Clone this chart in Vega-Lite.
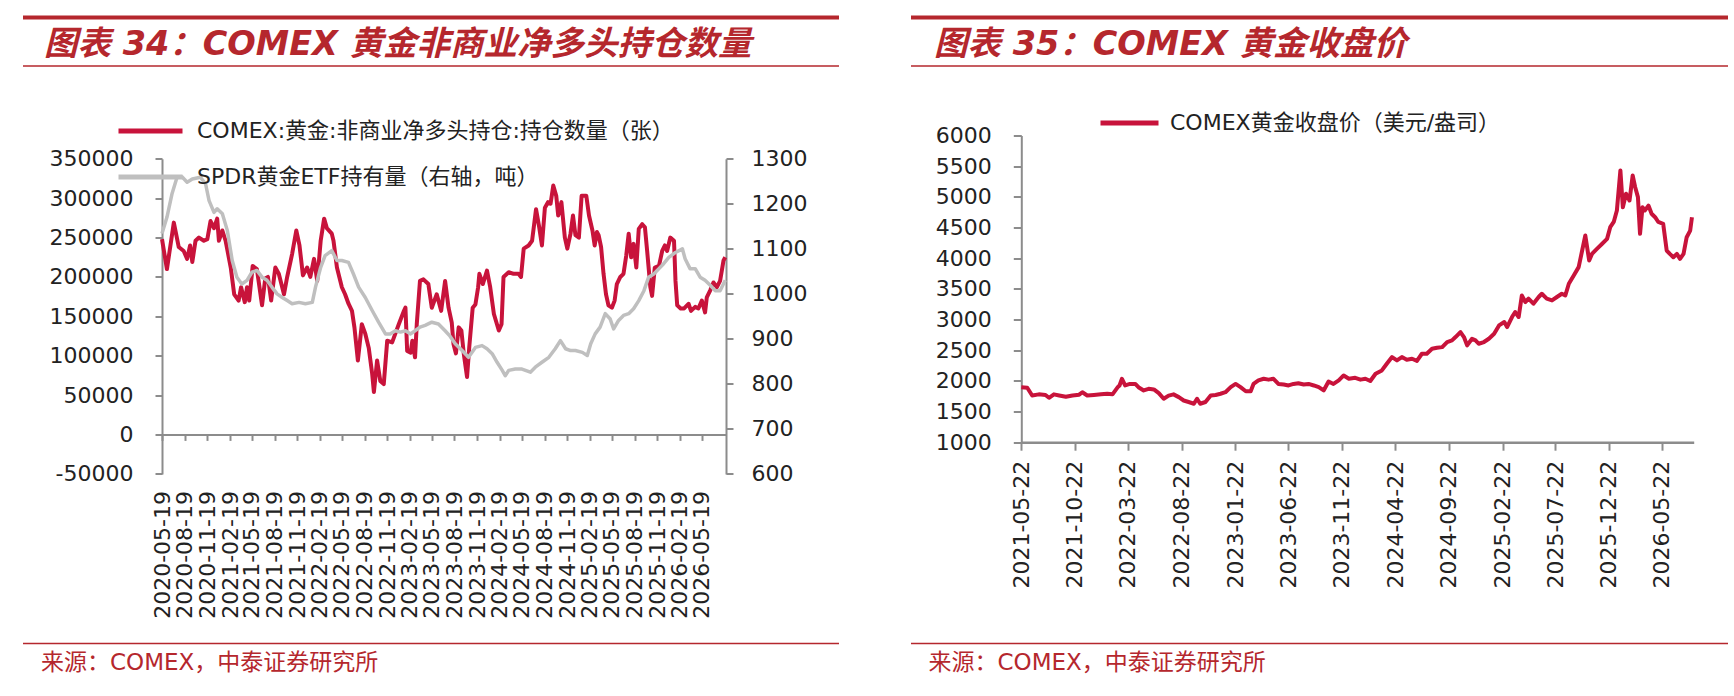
{
  "$schema": "https://vega.github.io/schema/vega-lite/v6.json",
  "background": "white",
  "padding": {"left": 21, "top": 15.5, "right": 8, "bottom": 5},
  "bounds": "flush",
  "columns": 2,
  "spacing": {"row": 69, "column": 72},
  "config": {
    "view": {"stroke": null},
    "font": "DejaVu Sans, Noto Sans CJK SC",
    "axis": {
      "labelFont": "DejaVu Sans, Noto Sans CJK SC",
      "labelFontSize": 22,
      "labelColor": "#222222",
      "domainColor": "#8c8c8c",
      "domainWidth": 2,
      "tickColor": "#8c8c8c",
      "tickWidth": 2,
      "grid": false,
      "labelOverlap": false
    },
    "legend": {
      "labelFont": "DejaVu Sans, Noto Sans CJK SC",
      "labelFontSize": 22,
      "labelColor": "#222222",
      "labelLimit": 800,
      "padding": 0
    }
  },
  "resolve": {"scale": {"color": "independent"}, "legend": {"color": "independent"}},
  "datasets": {
    "comex_net": [
      {"date": "2020-05-19", "net": 248000}, {"date": "2020-06-08", "net": 210000}, {"date": "2020-07-06", "net": 269000},
      {"date": "2020-07-15", "net": 255000}, {"date": "2020-07-26", "net": 238000}, {"date": "2020-08-15", "net": 233000},
      {"date": "2020-08-29", "net": 223000}, {"date": "2020-09-10", "net": 240000}, {"date": "2020-09-19", "net": 219000},
      {"date": "2020-10-02", "net": 246000}, {"date": "2020-10-16", "net": 250000}, {"date": "2020-11-05", "net": 246000},
      {"date": "2020-11-19", "net": 248000}, {"date": "2020-12-02", "net": 271000}, {"date": "2020-12-16", "net": 262000},
      {"date": "2020-12-29", "net": 274000}, {"date": "2021-01-05", "net": 246000}, {"date": "2021-01-19", "net": 259000},
      {"date": "2021-02-01", "net": 246000}, {"date": "2021-02-22", "net": 212000}, {"date": "2021-03-08", "net": 178000},
      {"date": "2021-03-26", "net": 170000}, {"date": "2021-04-05", "net": 187000}, {"date": "2021-04-20", "net": 168000},
      {"date": "2021-04-29", "net": 187000}, {"date": "2021-05-08", "net": 170000}, {"date": "2021-05-22", "net": 214000},
      {"date": "2021-06-08", "net": 210000}, {"date": "2021-06-15", "net": 195000}, {"date": "2021-06-29", "net": 164000},
      {"date": "2021-07-12", "net": 198000}, {"date": "2021-07-23", "net": 200000}, {"date": "2021-08-05", "net": 170000},
      {"date": "2021-08-22", "net": 212000}, {"date": "2021-09-05", "net": 204000}, {"date": "2021-09-26", "net": 178000},
      {"date": "2021-10-09", "net": 200000}, {"date": "2021-10-29", "net": 229000}, {"date": "2021-11-15", "net": 259000},
      {"date": "2021-11-28", "net": 240000}, {"date": "2021-12-12", "net": 202000}, {"date": "2021-12-29", "net": 212000},
      {"date": "2022-01-11", "net": 200000}, {"date": "2022-01-26", "net": 223000}, {"date": "2022-02-08", "net": 195000},
      {"date": "2022-02-22", "net": 246000}, {"date": "2022-03-08", "net": 274000}, {"date": "2022-03-19", "net": 262000},
      {"date": "2022-04-08", "net": 255000}, {"date": "2022-04-15", "net": 246000}, {"date": "2022-04-29", "net": 212000},
      {"date": "2022-05-19", "net": 187000}, {"date": "2022-06-01", "net": 178000}, {"date": "2022-06-15", "net": 166000},
      {"date": "2022-06-29", "net": 157000}, {"date": "2022-07-09", "net": 136000}, {"date": "2022-07-23", "net": 94000},
      {"date": "2022-08-08", "net": 140000}, {"date": "2022-08-22", "net": 128000}, {"date": "2022-09-05", "net": 110000},
      {"date": "2022-09-19", "net": 77000}, {"date": "2022-09-26", "net": 54000}, {"date": "2022-10-09", "net": 94000},
      {"date": "2022-10-22", "net": 68000}, {"date": "2022-11-05", "net": 64000}, {"date": "2022-11-19", "net": 119000},
      {"date": "2022-12-09", "net": 117000}, {"date": "2022-12-22", "net": 128000}, {"date": "2023-01-05", "net": 140000},
      {"date": "2023-01-26", "net": 157000}, {"date": "2023-02-01", "net": 161000}, {"date": "2023-02-08", "net": 106000},
      {"date": "2023-02-22", "net": 104000}, {"date": "2023-03-01", "net": 119000}, {"date": "2023-03-12", "net": 98000},
      {"date": "2023-03-19", "net": 140000}, {"date": "2023-04-01", "net": 195000}, {"date": "2023-04-15", "net": 197000},
      {"date": "2023-05-05", "net": 191000}, {"date": "2023-05-19", "net": 161000}, {"date": "2023-06-08", "net": 178000},
      {"date": "2023-06-26", "net": 157000}, {"date": "2023-07-12", "net": 195000}, {"date": "2023-07-26", "net": 161000},
      {"date": "2023-08-08", "net": 142000}, {"date": "2023-08-15", "net": 115000}, {"date": "2023-08-25", "net": 103000},
      {"date": "2023-09-05", "net": 136000}, {"date": "2023-09-16", "net": 132000}, {"date": "2023-09-26", "net": 102000},
      {"date": "2023-10-09", "net": 73000}, {"date": "2023-10-18", "net": 111000}, {"date": "2023-11-01", "net": 161000},
      {"date": "2023-11-12", "net": 165000}, {"date": "2023-11-23", "net": 187000}, {"date": "2023-11-28", "net": 204000},
      {"date": "2023-12-12", "net": 191000}, {"date": "2023-12-29", "net": 208000}, {"date": "2024-01-11", "net": 187000},
      {"date": "2024-01-26", "net": 153000}, {"date": "2024-02-15", "net": 132000}, {"date": "2024-02-26", "net": 140000},
      {"date": "2024-03-05", "net": 200000}, {"date": "2024-03-26", "net": 206000}, {"date": "2024-04-15", "net": 204000},
      {"date": "2024-05-05", "net": 204000}, {"date": "2024-05-15", "net": 200000}, {"date": "2024-05-26", "net": 236000},
      {"date": "2024-06-15", "net": 240000}, {"date": "2024-06-29", "net": 246000}, {"date": "2024-07-15", "net": 286000},
      {"date": "2024-07-28", "net": 263000}, {"date": "2024-08-08", "net": 240000}, {"date": "2024-08-20", "net": 288000},
      {"date": "2024-09-02", "net": 295000}, {"date": "2024-09-12", "net": 293000}, {"date": "2024-09-23", "net": 316000},
      {"date": "2024-10-05", "net": 303000}, {"date": "2024-10-13", "net": 278000}, {"date": "2024-10-26", "net": 295000},
      {"date": "2024-11-09", "net": 250000}, {"date": "2024-11-19", "net": 236000}, {"date": "2024-12-02", "net": 255000},
      {"date": "2024-12-12", "net": 278000}, {"date": "2024-12-22", "net": 253000}, {"date": "2025-01-05", "net": 250000},
      {"date": "2025-01-16", "net": 303000}, {"date": "2025-02-04", "net": 303000}, {"date": "2025-02-15", "net": 278000},
      {"date": "2025-03-01", "net": 259000}, {"date": "2025-03-10", "net": 240000}, {"date": "2025-03-19", "net": 257000},
      {"date": "2025-03-26", "net": 253000}, {"date": "2025-04-05", "net": 238000}, {"date": "2025-04-15", "net": 204000},
      {"date": "2025-04-25", "net": 178000}, {"date": "2025-05-05", "net": 164000}, {"date": "2025-05-19", "net": 161000},
      {"date": "2025-05-30", "net": 170000}, {"date": "2025-06-08", "net": 191000}, {"date": "2025-06-22", "net": 200000},
      {"date": "2025-07-05", "net": 204000}, {"date": "2025-07-16", "net": 227000}, {"date": "2025-07-26", "net": 255000},
      {"date": "2025-08-05", "net": 225000}, {"date": "2025-08-15", "net": 242000}, {"date": "2025-08-26", "net": 212000},
      {"date": "2025-09-05", "net": 261000}, {"date": "2025-09-19", "net": 267000}, {"date": "2025-09-30", "net": 263000},
      {"date": "2025-10-09", "net": 233000}, {"date": "2025-10-22", "net": 187000}, {"date": "2025-10-29", "net": 176000},
      {"date": "2025-11-09", "net": 212000}, {"date": "2025-11-26", "net": 214000}, {"date": "2025-12-09", "net": 233000},
      {"date": "2025-12-20", "net": 240000}, {"date": "2025-12-29", "net": 233000}, {"date": "2026-01-11", "net": 250000},
      {"date": "2026-01-26", "net": 246000}, {"date": "2026-02-01", "net": 195000}, {"date": "2026-02-08", "net": 164000},
      {"date": "2026-02-22", "net": 160000}, {"date": "2026-03-08", "net": 160000}, {"date": "2026-03-26", "net": 166000},
      {"date": "2026-04-05", "net": 157000}, {"date": "2026-04-22", "net": 162000}, {"date": "2026-05-05", "net": 160000},
      {"date": "2026-05-19", "net": 170000}, {"date": "2026-06-01", "net": 155000}, {"date": "2026-06-08", "net": 174000},
      {"date": "2026-06-22", "net": 183000}, {"date": "2026-07-05", "net": 193000}, {"date": "2026-07-19", "net": 187000},
      {"date": "2026-08-01", "net": 195000}, {"date": "2026-08-15", "net": 221000}, {"date": "2026-08-22", "net": 225000}
    ],
    "spdr": [
      {"date": "2020-05-19", "tons": 1134}, {"date": "2020-06-08", "tons": 1170}, {"date": "2020-06-29", "tons": 1223},
      {"date": "2020-07-19", "tons": 1259}, {"date": "2020-08-08", "tons": 1260}, {"date": "2020-08-29", "tons": 1248},
      {"date": "2020-09-19", "tons": 1255}, {"date": "2020-10-22", "tons": 1259}, {"date": "2020-11-12", "tons": 1244},
      {"date": "2020-11-26", "tons": 1207}, {"date": "2020-12-16", "tons": 1181}, {"date": "2020-12-29", "tons": 1189},
      {"date": "2021-01-19", "tons": 1178}, {"date": "2021-02-08", "tons": 1141}, {"date": "2021-02-28", "tons": 1074},
      {"date": "2021-03-19", "tons": 1037}, {"date": "2021-04-08", "tons": 1022}, {"date": "2021-04-29", "tons": 1030},
      {"date": "2021-05-19", "tons": 1048}, {"date": "2021-06-08", "tons": 1052}, {"date": "2021-06-29", "tons": 1037},
      {"date": "2021-07-19", "tons": 1030}, {"date": "2021-08-08", "tons": 1015}, {"date": "2021-08-29", "tons": 1000},
      {"date": "2021-09-19", "tons": 992}, {"date": "2021-10-09", "tons": 985}, {"date": "2021-10-29", "tons": 978},
      {"date": "2021-11-26", "tons": 981}, {"date": "2021-12-22", "tons": 978}, {"date": "2022-01-19", "tons": 981},
      {"date": "2022-02-01", "tons": 1015}, {"date": "2022-02-22", "tons": 1059}, {"date": "2022-03-12", "tons": 1085},
      {"date": "2022-04-08", "tons": 1096}, {"date": "2022-04-29", "tons": 1074}, {"date": "2022-05-19", "tons": 1074},
      {"date": "2022-06-15", "tons": 1070}, {"date": "2022-07-05", "tons": 1044}, {"date": "2022-07-26", "tons": 1015},
      {"date": "2022-08-22", "tons": 992}, {"date": "2022-09-19", "tons": 963}, {"date": "2022-10-15", "tons": 937},
      {"date": "2022-11-12", "tons": 911}, {"date": "2022-12-01", "tons": 911}, {"date": "2022-12-22", "tons": 918},
      {"date": "2023-01-12", "tons": 915}, {"date": "2023-02-01", "tons": 918}, {"date": "2023-02-22", "tons": 911},
      {"date": "2023-03-12", "tons": 918}, {"date": "2023-04-01", "tons": 926}, {"date": "2023-04-22", "tons": 930},
      {"date": "2023-05-19", "tons": 937}, {"date": "2023-06-15", "tons": 933}, {"date": "2023-07-12", "tons": 918},
      {"date": "2023-08-01", "tons": 906}, {"date": "2023-08-22", "tons": 889}, {"date": "2023-09-19", "tons": 874},
      {"date": "2023-10-15", "tons": 859}, {"date": "2023-11-12", "tons": 881}, {"date": "2023-12-09", "tons": 885},
      {"date": "2023-12-29", "tons": 878}, {"date": "2024-01-19", "tons": 867}, {"date": "2024-02-08", "tons": 848},
      {"date": "2024-02-29", "tons": 830}, {"date": "2024-03-12", "tons": 818}, {"date": "2024-03-26", "tons": 830},
      {"date": "2024-04-22", "tons": 833}, {"date": "2024-05-19", "tons": 833}, {"date": "2024-06-22", "tons": 826},
      {"date": "2024-07-12", "tons": 837}, {"date": "2024-08-08", "tons": 848}, {"date": "2024-09-05", "tons": 859},
      {"date": "2024-10-01", "tons": 878}, {"date": "2024-10-22", "tons": 896}, {"date": "2024-11-12", "tons": 878},
      {"date": "2024-12-02", "tons": 874}, {"date": "2024-12-22", "tons": 874}, {"date": "2025-01-19", "tons": 870},
      {"date": "2025-02-08", "tons": 863}, {"date": "2025-02-22", "tons": 889}, {"date": "2025-03-12", "tons": 911},
      {"date": "2025-04-01", "tons": 926}, {"date": "2025-04-22", "tons": 956}, {"date": "2025-05-12", "tons": 944},
      {"date": "2025-05-26", "tons": 922}, {"date": "2025-06-15", "tons": 941}, {"date": "2025-07-05", "tons": 952},
      {"date": "2025-07-26", "tons": 956}, {"date": "2025-08-15", "tons": 967}, {"date": "2025-09-05", "tons": 985},
      {"date": "2025-09-26", "tons": 1007}, {"date": "2025-10-15", "tons": 1037}, {"date": "2025-11-05", "tons": 1044},
      {"date": "2025-11-26", "tons": 1056}, {"date": "2025-12-15", "tons": 1067}, {"date": "2026-01-05", "tons": 1081},
      {"date": "2026-02-01", "tons": 1092}, {"date": "2026-03-01", "tons": 1100}, {"date": "2026-03-12", "tons": 1078},
      {"date": "2026-04-01", "tons": 1056}, {"date": "2026-04-22", "tons": 1056}, {"date": "2026-05-12", "tons": 1037},
      {"date": "2026-06-01", "tons": 1030}, {"date": "2026-06-22", "tons": 1019}, {"date": "2026-07-12", "tons": 1007},
      {"date": "2026-08-01", "tons": 1007}, {"date": "2026-08-22", "tons": 1030}
    ],
    "gold_close": [
      {"date": "2021-05-22", "close": 1897}, {"date": "2021-06-08", "close": 1888}, {"date": "2021-06-22", "close": 1762},
      {"date": "2021-07-11", "close": 1780}, {"date": "2021-07-30", "close": 1770}, {"date": "2021-08-09", "close": 1724},
      {"date": "2021-08-23", "close": 1780}, {"date": "2021-09-07", "close": 1762}, {"date": "2021-09-26", "close": 1740},
      {"date": "2021-10-15", "close": 1762}, {"date": "2021-11-03", "close": 1775}, {"date": "2021-11-12", "close": 1815},
      {"date": "2021-11-26", "close": 1762}, {"date": "2021-12-15", "close": 1770}, {"date": "2022-01-04", "close": 1780},
      {"date": "2022-01-22", "close": 1790}, {"date": "2022-02-06", "close": 1780}, {"date": "2022-02-21", "close": 1897},
      {"date": "2022-02-26", "close": 1925}, {"date": "2022-03-05", "close": 2034}, {"date": "2022-03-14", "close": 1925},
      {"date": "2022-03-28", "close": 1950}, {"date": "2022-04-12", "close": 1950}, {"date": "2022-04-21", "close": 1897},
      {"date": "2022-05-06", "close": 1844}, {"date": "2022-05-20", "close": 1870}, {"date": "2022-06-04", "close": 1860},
      {"date": "2022-06-18", "close": 1800}, {"date": "2022-07-02", "close": 1708}, {"date": "2022-07-16", "close": 1760},
      {"date": "2022-07-30", "close": 1780}, {"date": "2022-08-14", "close": 1735}, {"date": "2022-08-28", "close": 1680},
      {"date": "2022-09-11", "close": 1655}, {"date": "2022-09-26", "close": 1627}, {"date": "2022-10-05", "close": 1708},
      {"date": "2022-10-14", "close": 1627}, {"date": "2022-10-29", "close": 1655}, {"date": "2022-11-13", "close": 1762},
      {"date": "2022-11-27", "close": 1770}, {"date": "2022-12-11", "close": 1790}, {"date": "2022-12-25", "close": 1815},
      {"date": "2023-01-09", "close": 1897}, {"date": "2023-01-23", "close": 1950}, {"date": "2023-02-06", "close": 1897},
      {"date": "2023-02-21", "close": 1830}, {"date": "2023-03-07", "close": 1830}, {"date": "2023-03-15", "close": 1950},
      {"date": "2023-03-29", "close": 2007}, {"date": "2023-04-13", "close": 2034}, {"date": "2023-04-27", "close": 2020},
      {"date": "2023-05-11", "close": 2034}, {"date": "2023-05-25", "close": 1950}, {"date": "2023-06-09", "close": 1940},
      {"date": "2023-06-23", "close": 1925}, {"date": "2023-07-07", "close": 1950}, {"date": "2023-07-21", "close": 1962},
      {"date": "2023-08-05", "close": 1940}, {"date": "2023-08-19", "close": 1950}, {"date": "2023-09-03", "close": 1925},
      {"date": "2023-09-17", "close": 1897}, {"date": "2023-10-01", "close": 1844}, {"date": "2023-10-15", "close": 1990},
      {"date": "2023-10-29", "close": 1950}, {"date": "2023-11-13", "close": 2007}, {"date": "2023-11-27", "close": 2088},
      {"date": "2023-12-12", "close": 2034}, {"date": "2023-12-30", "close": 2050}, {"date": "2024-01-14", "close": 2020},
      {"date": "2024-01-28", "close": 2034}, {"date": "2024-02-11", "close": 1997}, {"date": "2024-02-26", "close": 2116},
      {"date": "2024-03-15", "close": 2170}, {"date": "2024-03-29", "close": 2279}, {"date": "2024-04-13", "close": 2388},
      {"date": "2024-04-27", "close": 2334}, {"date": "2024-05-11", "close": 2388}, {"date": "2024-05-25", "close": 2345},
      {"date": "2024-06-09", "close": 2360}, {"date": "2024-06-23", "close": 2325}, {"date": "2024-07-07", "close": 2442},
      {"date": "2024-07-21", "close": 2442}, {"date": "2024-08-05", "close": 2524}, {"date": "2024-08-19", "close": 2540},
      {"date": "2024-09-03", "close": 2550}, {"date": "2024-09-17", "close": 2633}, {"date": "2024-10-01", "close": 2660},
      {"date": "2024-10-11", "close": 2714}, {"date": "2024-10-25", "close": 2796}, {"date": "2024-11-04", "close": 2714},
      {"date": "2024-11-13", "close": 2578}, {"date": "2024-11-27", "close": 2687}, {"date": "2024-12-07", "close": 2660},
      {"date": "2024-12-16", "close": 2605}, {"date": "2024-12-31", "close": 2633}, {"date": "2025-01-14", "close": 2687},
      {"date": "2025-01-29", "close": 2768}, {"date": "2025-02-12", "close": 2904}, {"date": "2025-02-27", "close": 2959},
      {"date": "2025-03-07", "close": 2877}, {"date": "2025-03-21", "close": 3041}, {"date": "2025-03-30", "close": 3122},
      {"date": "2025-04-09", "close": 3041}, {"date": "2025-04-18", "close": 3392}, {"date": "2025-04-28", "close": 3285},
      {"date": "2025-05-07", "close": 3340}, {"date": "2025-05-21", "close": 3258}, {"date": "2025-06-05", "close": 3367},
      {"date": "2025-06-14", "close": 3420}, {"date": "2025-06-28", "close": 3340}, {"date": "2025-07-13", "close": 3312},
      {"date": "2025-07-27", "close": 3367}, {"date": "2025-08-10", "close": 3420}, {"date": "2025-08-20", "close": 3392},
      {"date": "2025-08-30", "close": 3583}, {"date": "2025-09-13", "close": 3718}, {"date": "2025-09-27", "close": 3854},
      {"date": "2025-10-07", "close": 4125}, {"date": "2025-10-16", "close": 4370}, {"date": "2025-10-27", "close": 3962},
      {"date": "2025-11-04", "close": 4070}, {"date": "2025-11-18", "close": 4152}, {"date": "2025-12-03", "close": 4235},
      {"date": "2025-12-17", "close": 4315}, {"date": "2025-12-26", "close": 4505}, {"date": "2026-01-05", "close": 4590},
      {"date": "2026-01-14", "close": 4778}, {"date": "2026-01-24", "close": 5430}, {"date": "2026-01-31", "close": 4830},
      {"date": "2026-02-09", "close": 5050}, {"date": "2026-02-19", "close": 4940}, {"date": "2026-02-28", "close": 5348},
      {"date": "2026-03-07", "close": 5160}, {"date": "2026-03-15", "close": 4995}, {"date": "2026-03-21", "close": 4398},
      {"date": "2026-03-28", "close": 4830}, {"date": "2026-04-04", "close": 4778}, {"date": "2026-04-14", "close": 4858},
      {"date": "2026-04-23", "close": 4724}, {"date": "2026-05-03", "close": 4668}, {"date": "2026-05-12", "close": 4590},
      {"date": "2026-05-26", "close": 4560}, {"date": "2026-06-05", "close": 4125}, {"date": "2026-06-14", "close": 4070},
      {"date": "2026-06-24", "close": 4016}, {"date": "2026-07-04", "close": 4070}, {"date": "2026-07-13", "close": 3990},
      {"date": "2026-07-23", "close": 4070}, {"date": "2026-08-01", "close": 4342}, {"date": "2026-08-11", "close": 4450},
      {"date": "2026-08-16", "close": 4668}
    ]
  },
  "concat": [
    {
      "width": 816,
      "height": 48.5,
      "data": {"values": [{"caption": "图表 34：COMEX 黄金非商业净多头持仓数量"}]},
      "layer": [
        {
          "mark": {"type": "rule", "color": "#B5272D", "strokeWidth": 4},
          "encoding": {"y": {"datum": 1, "type": "quantitative", "scale": {"domain": [0, 1]}, "axis": null}}
        },
        {
          "mark": {"type": "rule", "color": "#B5272D", "strokeWidth": 1.5},
          "encoding": {"y": {"datum": 0, "type": "quantitative", "scale": {"domain": [0, 1]}, "axis": null}}
        },
        {
          "mark": {
            "type": "text", "align": "left", "baseline": "alphabetic", "dx": 21,
            "font": "DejaVu Sans, Noto Sans CJK SC", "fontSize": 33.5, "fontWeight": "bold", "fontStyle": "italic", "color": "#B5272D"
          },
          "encoding": {
            "text": {"field": "caption"},
            "x": {"datum": 0, "type": "quantitative", "scale": {"domain": [0, 1]}, "axis": null},
            "y": {"datum": 0.2268, "type": "quantitative", "scale": {"domain": [0, 1]}, "axis": null}
          }
        }
      ]
    },
    {
      "width": 817,
      "height": 48.5,
      "data": {"values": [{"caption": "图表 35：COMEX 黄金收盘价"}]},
      "layer": [
        {
          "mark": {"type": "rule", "color": "#B5272D", "strokeWidth": 4},
          "encoding": {"y": {"datum": 1, "type": "quantitative", "scale": {"domain": [0, 1]}, "axis": null}}
        },
        {
          "mark": {"type": "rule", "color": "#B5272D", "strokeWidth": 1.5},
          "encoding": {"y": {"datum": 0, "type": "quantitative", "scale": {"domain": [0, 1]}, "axis": null}}
        },
        {
          "mark": {
            "type": "text", "align": "left", "baseline": "alphabetic", "dx": 23,
            "font": "DejaVu Sans, Noto Sans CJK SC", "fontSize": 33.5, "fontWeight": "bold", "fontStyle": "italic", "color": "#B5272D"
          },
          "encoding": {
            "text": {"field": "caption"},
            "x": {"datum": 0, "type": "quantitative", "scale": {"domain": [0, 1]}, "axis": null},
            "y": {"datum": 0.2268, "type": "quantitative", "scale": {"domain": [0, 1]}, "axis": null}
          }
        }
      ]
    },
    {
      "width": 816,
      "height": 439,
      "layer": [
        {
          "data": {"name": "comex_net"},
          "mark": {"type": "line", "strokeWidth": 4, "strokeJoin": "round"},
          "encoding": {
            "x": {
              "field": "date", "type": "temporal",
              "scale": {
                "type": "utc",
                "domain": [{"year": 2020, "month": 5, "date": 19, "utc": true}, {"year": 2026, "month": 8, "date": 25, "utc": true}],
                "range": [139, 703]
              },
              "axis": {
                "orient": "bottom", "offset": -140.1, "labels": false, "tickSize": 6, "title": null,
                "values": [
                  {"year": 2020, "month": 5, "date": 19, "utc": true}, {"year": 2020, "month": 8, "date": 19, "utc": true},
                  {"year": 2020, "month": 11, "date": 19, "utc": true}, {"year": 2021, "month": 2, "date": 19, "utc": true},
                  {"year": 2021, "month": 5, "date": 19, "utc": true}, {"year": 2021, "month": 8, "date": 19, "utc": true},
                  {"year": 2021, "month": 11, "date": 19, "utc": true}, {"year": 2022, "month": 2, "date": 19, "utc": true},
                  {"year": 2022, "month": 5, "date": 19, "utc": true}, {"year": 2022, "month": 8, "date": 19, "utc": true},
                  {"year": 2022, "month": 11, "date": 19, "utc": true}, {"year": 2023, "month": 2, "date": 19, "utc": true},
                  {"year": 2023, "month": 5, "date": 19, "utc": true}, {"year": 2023, "month": 8, "date": 19, "utc": true},
                  {"year": 2023, "month": 11, "date": 19, "utc": true}, {"year": 2024, "month": 2, "date": 19, "utc": true},
                  {"year": 2024, "month": 5, "date": 19, "utc": true}, {"year": 2024, "month": 8, "date": 19, "utc": true},
                  {"year": 2024, "month": 11, "date": 19, "utc": true}, {"year": 2025, "month": 2, "date": 19, "utc": true},
                  {"year": 2025, "month": 5, "date": 19, "utc": true}, {"year": 2025, "month": 8, "date": 19, "utc": true},
                  {"year": 2025, "month": 11, "date": 19, "utc": true}, {"year": 2026, "month": 2, "date": 19, "utc": true},
                  {"year": 2026, "month": 5, "date": 19, "utc": true}
                ]
              }
            },
            "y": {
              "field": "net", "type": "quantitative",
              "scale": {"domain": [-50000, 350000], "nice": false, "zero": false, "range": [338.4, 23.3]},
              "axis": {
                "orient": "left", "offset": -139, "tickSize": 7, "labelPadding": 22, "title": null, "format": "d",
                "labelExpr": "replace(datum.label, '\u2212', '-')",
                "values": [-50000, 0, 50000, 100000, 150000, 200000, 250000, 300000, 350000]
              }
            },
            "color": {
              "datum": "COMEX:黄金:非商业净多头持仓:持仓数量（张）", "type": "nominal",
              "scale": {
                "domain": ["COMEX:黄金:非商业净多头持仓:持仓数量（张）", "SPDR黄金ETF持有量（右轴，吨）"],
                "range": ["#C8133B", "#BFBFBF"]
              },
              "legend": {
                "orient": "none", "legendX": 93, "legendY": -39, "direction": "vertical", "title": null,
                "symbolType": "stroke", "symbolSize": 4096, "symbolStrokeWidth": 5,
                "labelOffset": 12, "rowPadding": -15
              }
            }
          }
        },
        {
          "data": {"name": "spdr"},
          "mark": {"type": "line", "strokeWidth": 3.5, "strokeJoin": "round"},
          "encoding": {
            "x": {
              "field": "date", "type": "temporal",
              "axis": {
                "orient": "bottom", "offset": -100.6, "domain": false, "ticks": false, "tickSize": 0, "labelPadding": 16.6,
                "labelAngle": 270, "labelAlign": "right", "labelBaseline": "middle",
                "format": "%Y-%m-%d", "title": null,
                "values": [
                  {"year": 2020, "month": 5, "date": 19, "utc": true}, {"year": 2020, "month": 8, "date": 19, "utc": true},
                  {"year": 2020, "month": 11, "date": 19, "utc": true}, {"year": 2021, "month": 2, "date": 19, "utc": true},
                  {"year": 2021, "month": 5, "date": 19, "utc": true}, {"year": 2021, "month": 8, "date": 19, "utc": true},
                  {"year": 2021, "month": 11, "date": 19, "utc": true}, {"year": 2022, "month": 2, "date": 19, "utc": true},
                  {"year": 2022, "month": 5, "date": 19, "utc": true}, {"year": 2022, "month": 8, "date": 19, "utc": true},
                  {"year": 2022, "month": 11, "date": 19, "utc": true}, {"year": 2023, "month": 2, "date": 19, "utc": true},
                  {"year": 2023, "month": 5, "date": 19, "utc": true}, {"year": 2023, "month": 8, "date": 19, "utc": true},
                  {"year": 2023, "month": 11, "date": 19, "utc": true}, {"year": 2024, "month": 2, "date": 19, "utc": true},
                  {"year": 2024, "month": 5, "date": 19, "utc": true}, {"year": 2024, "month": 8, "date": 19, "utc": true},
                  {"year": 2024, "month": 11, "date": 19, "utc": true}, {"year": 2025, "month": 2, "date": 19, "utc": true},
                  {"year": 2025, "month": 5, "date": 19, "utc": true}, {"year": 2025, "month": 8, "date": 19, "utc": true},
                  {"year": 2025, "month": 11, "date": 19, "utc": true}, {"year": 2026, "month": 2, "date": 19, "utc": true},
                  {"year": 2026, "month": 5, "date": 19, "utc": true}
                ]
              }
            },
            "y": {
              "field": "tons", "type": "quantitative",
              "scale": {"domain": [600, 1300], "nice": false, "zero": false, "range": [338.4, 23.3]},
              "axis": {
                "orient": "right", "offset": -113, "tickSize": 7, "labelPadding": 18, "title": null, "format": "d",
                "values": [600, 700, 800, 900, 1000, 1100, 1200, 1300]
              }
            },
            "color": {"datum": "SPDR黄金ETF持有量（右轴，吨）", "type": "nominal"}
          }
        }
      ],
      "resolve": {"scale": {"y": "independent"}, "axis": {"x": "independent", "y": "independent"}}
    },
    {
      "width": 817,
      "height": 439,
      "data": {"name": "gold_close"},
      "mark": {"type": "line", "strokeWidth": 4, "strokeJoin": "round"},
      "encoding": {
        "x": {
          "field": "date", "type": "temporal",
          "scale": {
            "type": "utc",
            "domain": [{"year": 2021, "month": 5, "date": 22, "utc": true}, {"year": 2026, "month": 8, "date": 21, "utc": true}],
            "range": [110.3, 782.7]
          },
          "axis": {
            "orient": "bottom", "offset": -132.3, "tickSize": 8, "labelPadding": 10, "domainWidth": 2.5,
            "labelAngle": 270, "labelAlign": "right", "labelBaseline": "middle",
            "format": "%Y-%m-%d", "title": null,
            "values": [
              {"year": 2021, "month": 5, "date": 22, "utc": true}, {"year": 2021, "month": 10, "date": 22, "utc": true},
              {"year": 2022, "month": 3, "date": 22, "utc": true}, {"year": 2022, "month": 8, "date": 22, "utc": true},
              {"year": 2023, "month": 1, "date": 22, "utc": true}, {"year": 2023, "month": 6, "date": 22, "utc": true},
              {"year": 2023, "month": 11, "date": 22, "utc": true}, {"year": 2024, "month": 4, "date": 22, "utc": true},
              {"year": 2024, "month": 9, "date": 22, "utc": true}, {"year": 2025, "month": 2, "date": 22, "utc": true},
              {"year": 2025, "month": 7, "date": 22, "utc": true}, {"year": 2025, "month": 12, "date": 22, "utc": true},
              {"year": 2026, "month": 5, "date": 22, "utc": true}
            ]
          }
        },
        "y": {
          "field": "close", "type": "quantitative",
          "scale": {"domain": [1000, 6000], "nice": false, "zero": false, "range": [306.7, 0]},
          "axis": {
            "orient": "left", "offset": -110.3, "tickSize": 8, "labelPadding": 22, "title": null, "format": "d",
            "values": [1000, 1500, 2000, 2500, 3000, 3500, 4000, 4500, 5000, 5500, 6000]
          }
        },
        "color": {
          "datum": "COMEX黄金收盘价（美元/盎司）", "type": "nominal",
          "scale": {"domain": ["COMEX黄金收盘价（美元/盎司）"], "range": ["#C8133B"]},
          "legend": {
            "orient": "none", "legendX": 187, "legendY": -44, "title": null,
            "symbolType": "stroke", "symbolSize": 3364, "symbolStrokeWidth": 5,
            "labelOffset": 9
          }
        }
      }
    },
    {
      "width": 816,
      "height": 30,
      "data": {"values": [{"source": "来源：COMEX，中泰证券研究所"}]},
      "layer": [
        {
          "mark": {"type": "rule", "color": "#B5272D", "strokeWidth": 1.5},
          "encoding": {"y": {"datum": 1, "type": "quantitative", "scale": {"domain": [0, 1]}, "axis": null}}
        },
        {
          "mark": {
            "type": "text", "align": "left", "baseline": "alphabetic", "dx": 18,
            "font": "DejaVu Sans, Noto Sans CJK SC", "fontSize": 23, "color": "#B5272D"
          },
          "encoding": {
            "text": {"field": "source"},
            "x": {"datum": 0, "type": "quantitative", "scale": {"domain": [0, 1]}, "axis": null},
            "y": {"datum": 0.1333, "type": "quantitative", "scale": {"domain": [0, 1]}, "axis": null}
          }
        }
      ]
    },
    {
      "width": 817,
      "height": 30,
      "data": {"values": [{"source": "来源：COMEX，中泰证券研究所"}]},
      "layer": [
        {
          "mark": {"type": "rule", "color": "#B5272D", "strokeWidth": 1.5},
          "encoding": {"y": {"datum": 1, "type": "quantitative", "scale": {"domain": [0, 1]}, "axis": null}}
        },
        {
          "mark": {
            "type": "text", "align": "left", "baseline": "alphabetic", "dx": 17.5,
            "font": "DejaVu Sans, Noto Sans CJK SC", "fontSize": 23, "color": "#B5272D"
          },
          "encoding": {
            "text": {"field": "source"},
            "x": {"datum": 0, "type": "quantitative", "scale": {"domain": [0, 1]}, "axis": null},
            "y": {"datum": 0.1333, "type": "quantitative", "scale": {"domain": [0, 1]}, "axis": null}
          }
        }
      ]
    }
  ]
}
